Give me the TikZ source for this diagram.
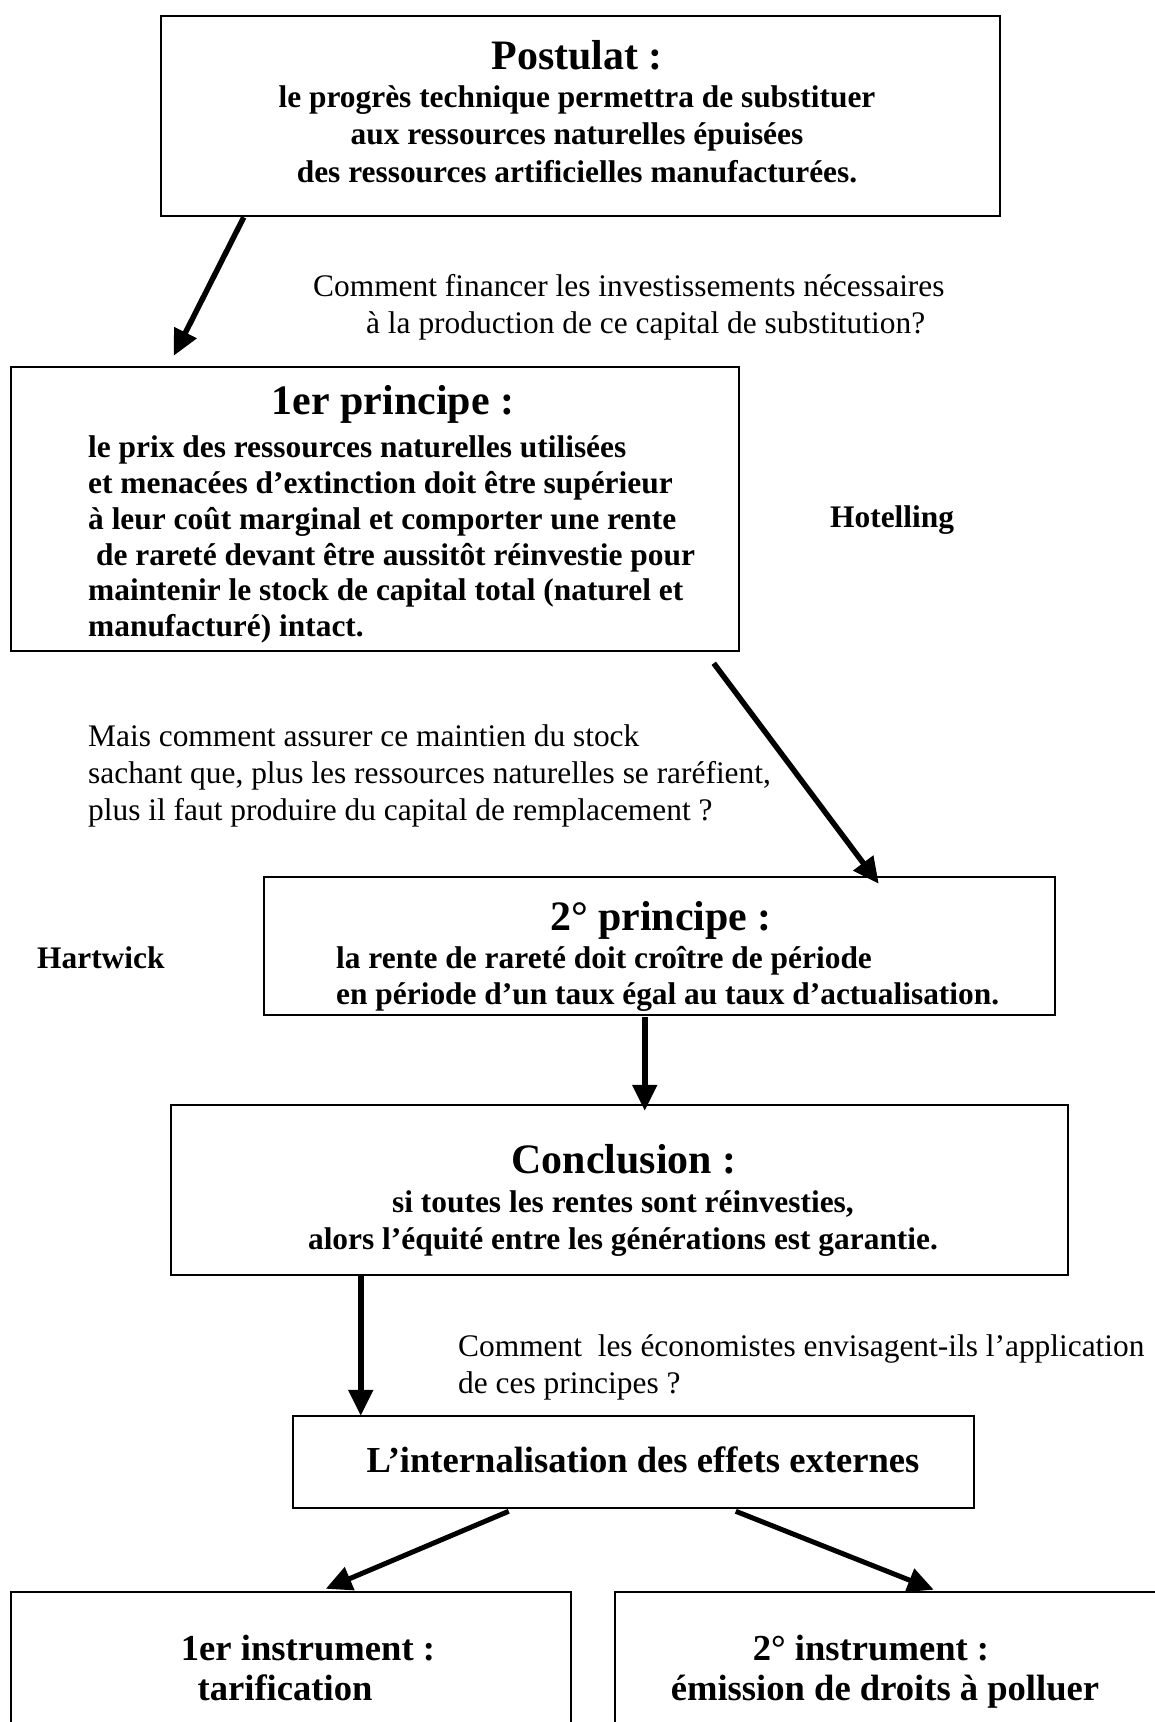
\documentclass[tikz,border=0pt]{standalone}
\usepackage{fontspec}
\setmainfont{Liberation Serif}
\usetikzlibrary{arrows.meta,calc}
\newcommand\bodyf{\fontsize{31.4}{36}\selectfont}
\newcommand\titlef{\fontsize{41.9}{48}\selectfont\bfseries}
\newcommand\midf{\fontsize{36.6}{42}\selectfont\bfseries}
\begin{document}
\begin{tikzpicture}[x=1pt,y=-1pt,
  box/.style={draw,line width=2.5pt,inner sep=0pt,rectangle},
  txt/.style={inner sep=0pt,font=\bodyf},
  btxt/.style={inner sep=0pt,font=\bodyf\bfseries},
  ttl/.style={inner sep=0pt,font=\titlef},
  mtxt/.style={inner sep=0pt,font=\midf},
  arr/.style={line width=5.5pt,-{Triangle[length=26pt,width=24pt]}},
  darr/.style={line width=5pt,-{Triangle[length=26pt,width=24pt]}}]
\useasboundingbox (0,0) rectangle (1155,1722);
\clip (0,0) rectangle (1155,1722);

% boxes
\node[box,minimum width=839pt,minimum height=200pt] (post) at (580.5,116) {};
\node[box,minimum width=728pt,minimum height=284pt] (p1) at (375,509) {};
\node[box,minimum width=791pt,minimum height=138pt] (p2) at (659.5,946) {};
\node[box,minimum width=897pt,minimum height=170pt] (concl) at (619.5,1190) {};
\node[box,minimum width=681pt,minimum height=92pt] (intern) at (633.5,1462) {};
\node[box,minimum width=560pt,minimum height=208pt] (inst1) at (291,1696) {};
\node[box,minimum width=585pt,minimum height=208pt] (inst2) at (907.5,1696) {};

% Postulat
\node[ttl,anchor=base] (postT) at (577,69) {Postulat :};
\node[btxt,anchor=base] (postA) at (577,107) {le progrès technique permettra de substituer};
\node[btxt,anchor=base] (postB) at (577,144) {aux ressources naturelles épuisées};
\node[btxt,anchor=base] (postC) at (577,182) {des ressources artificielles manufacturées.};

% question 1
\node[txt,anchor=base west] (q1a) at (313,296) {Comment financer les investissements nécessaires};
\node[txt,anchor=base west] (q1b) at (366,333) {à la production de ce capital de substitution?};

% 1er principe
\node[ttl,anchor=base] (p1T) at (393,414) {1er principe :};
\node[btxt,anchor=base west] (p1a) at (88,457) {le prix des ressources naturelles utilisées};
\node[btxt,anchor=base west] (p1b) at (88,493) {et menacées d’extinction doit être supérieur};
\node[btxt,anchor=base west] (p1c) at (88,529) {à leur coût marginal et comporter une rente};
\node[btxt,anchor=base west] (p1d) at (96,565) {de rareté devant être aussitôt réinvestie pour};
\node[btxt,anchor=base west] (p1e) at (88,600) {maintenir le stock de capital total (naturel et};
\node[btxt,anchor=base west] (p1f) at (88,636) {manufacturé) intact.};
\node[btxt,anchor=base west] (hot) at (830,527) {Hotelling};

% question 2
\node[txt,anchor=base west] (q2a) at (88,746) {Mais comment assurer ce maintien du stock};
\node[txt,anchor=base west] (q2b) at (88,783) {sachant que, plus les ressources naturelles se raréfient,};
\node[txt,anchor=base west] (q2c) at (88,820) {plus il faut produire du capital de remplacement ?};

% 2e principe
\node[ttl,anchor=base] (p2T) at (661,930) {2° principe :};
\node[btxt,anchor=base west] (p2a) at (336,968) {la rente de rareté doit croître de période};
\node[btxt,anchor=base west] (p2b) at (336,1004) {en période d’un taux égal au taux d’actualisation.};
\node[btxt,anchor=base west] (hart) at (37,968) {Hartwick};

% Conclusion
\node[ttl,anchor=base] (cT) at (624,1173) {Conclusion :};
\node[btxt,anchor=base] (ca) at (623,1212) {si toutes les rentes sont réinvesties,};
\node[btxt,anchor=base] (cb) at (623,1249) {alors l’équité entre les générations est garantie.};

% question 3
\node[txt,anchor=base west] (q3a) at (458,1356) {Comment\ \ les économistes envisagent-ils l’application};
\node[txt,anchor=base west] (q3b) at (458,1393) {de ces principes ?};

% internalisation
\node[mtxt,anchor=base] (intT) at (643,1472) {L’internalisation des effets externes};

% instruments
\node[mtxt,anchor=base] (i1a) at (308,1660) {1er instrument :};
\node[mtxt,anchor=base] (i1b) at (285,1700) {tarification};
\node[mtxt,anchor=base] (i2a) at (871,1660) {2° instrument :};
\node[mtxt,anchor=base] (i2b) at (885,1700) {émission de droits à polluer};

% connectors
\draw[arr] ([xshift=84pt]post.south west) -- ([xshift=164pt,yshift=10pt]p1.north west);
\draw[arr] ([xshift=704pt,yshift=-11pt]p1.south west) -- ([xshift=616pt,yshift=-8pt]p2.north west);
\draw[arr] ([xshift=382pt,yshift=-1pt]p2.south west) -- ([xshift=382pt,yshift=-7pt]concl.north west -| p2.south west);
\draw[arr] ([xshift=191pt]concl.south west) -- ([xshift=69pt,yshift=-1pt]intern.north west);
\draw[darr] ([xshift=217pt,yshift=-2pt]intern.south west) -- ([xshift=316pt,yshift=2pt]inst1.north west);
\draw[darr] ([xshift=444pt,yshift=-2pt]intern.south west) -- ([xshift=320pt,yshift=1pt]inst2.north west);
\end{tikzpicture}
\end{document}
